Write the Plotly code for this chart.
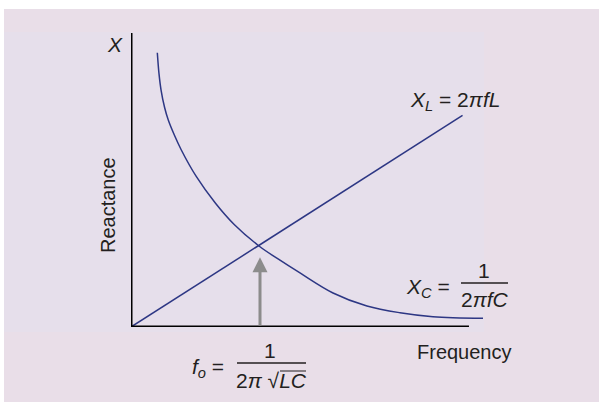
import plotly.graph_objects as go

# Frequency axis in units of the resonant frequency f0, reactance in units of X at f0
freq_line = [0.0, 2.57]
xl_values = [0.0, 2.58]

freq_curve = [0.204, 0.217, 0.233, 0.260, 0.289, 0.336, 0.388, 0.507, 0.655,
              0.800, 0.992, 1.140, 1.310, 1.566, 1.829, 2.085, 2.341, 2.729]
xc_values = [3.345, 3.09, 2.89, 2.68, 2.524, 2.341, 2.165, 1.833, 1.509,
             1.25, 0.988, 0.83, 0.659, 0.415, 0.256, 0.174, 0.126, 0.106]

f_resonance = 1.0
arrow_top = 0.85
axis_x_end = 2.62
axis_y_end = 3.585

# Plot-area geometry (pixels) used for placing the labels
W_FIG, H_FIG = 599, 407
L, T, W, H = 131, 24, 387, 303
X_RANGE = [0, W / 129.0]
Y_RANGE = [0, H / 82.0]


def px(x):
    return (x - L) / W


def py(y):
    return (T + H - y) / H


LINE_COLOR = "#2d3784"
TEXT_COLOR = "#231f20"
FONT = "Liberation Sans, Arial, sans-serif"

fig = go.Figure()

fig.add_trace(go.Scatter(x=freq_line, y=xl_values, mode="lines",
                         line=dict(color=LINE_COLOR, width=1.5),
                         hoverinfo="skip", showlegend=False))
fig.add_trace(go.Scatter(x=freq_curve, y=xc_values, mode="lines",
                         line=dict(color=LINE_COLOR, width=1.5, shape="spline", smoothing=1.0),
                         hoverinfo="skip", showlegend=False))

shapes = [
    # outer panel
    dict(type="rect", xref="paper", yref="paper", x0=px(4), x1=px(599), y0=py(402), y1=py(9),
         fillcolor="#e9dee8", line=dict(width=0), layer="below"),
    # inner panel
    dict(type="rect", xref="paper", yref="paper", x0=px(4), x1=px(484), y0=py(332), y1=py(32),
         fillcolor="#e6dfeb", line=dict(width=0), layer="below"),
    # axes
    dict(type="line", xref="x", yref="y", x0=0, x1=axis_x_end, y0=0, y1=0,
         line=dict(color="black", width=3)),
    dict(type="line", xref="x", yref="y", x0=0, x1=0, y0=0, y1=axis_y_end,
         line=dict(color="black", width=3)),
    # fraction bars
    dict(type="line", xref="paper", yref="paper", x0=px(461), x1=px(508), y0=py(283), y1=py(283),
         line=dict(color=TEXT_COLOR, width=1.5)),
    dict(type="line", xref="paper", yref="paper", x0=px(237), x1=px(306), y0=py(363), y1=py(363),
         line=dict(color=TEXT_COLOR, width=1.5)),
    # radical overline
    dict(type="line", xref="paper", yref="paper", x0=px(280), x1=px(306), y0=py(371), y1=py(371),
         line=dict(color=TEXT_COLOR, width=1)),
]


def label(text, x, y, size=21, angle=0):
    return dict(text=text, xref="paper", yref="paper", x=px(x), y=py(y),
                xanchor="center", yanchor="middle", showarrow=False, textangle=angle,
                font=dict(family=FONT, size=size, color=TEXT_COLOR))


annotations = [
    label("<i>X</i>", 115, 45, 21),
    label("Reactance", 108, 205, 20, -90),
    label("<i>X<sub>L</sub></i> = 2<i>πfL</i>", 455, 101),
    label("<i>X<sub>C</sub></i> =", 428, 288),
    label("1", 484, 270),
    label("2<i>πfC</i>", 485, 299),
    label("Frequency", 464, 352, 20),
    label("<i>f<sub>o</sub></i> =", 208, 368),
    label("1", 270, 350),
    label("2<i>π</i> √<i>LC</i>", 271, 380),
    # arrow marking the resonant frequency
    dict(x=f_resonance, y=arrow_top, ax=f_resonance, ay=0, xref="x", yref="y",
         axref="x", ayref="y", showarrow=True, arrowhead=2, arrowsize=1.0,
         arrowwidth=3, arrowcolor="#8c8c8c", text=""),
]

fig.update_layout(
    width=W_FIG, height=H_FIG,
    margin=dict(l=L, r=W_FIG - L - W, t=T, b=H_FIG - T - H, pad=0),
    paper_bgcolor="white", plot_bgcolor="rgba(0,0,0,0)",
    xaxis=dict(range=X_RANGE, visible=False, fixedrange=True),
    yaxis=dict(range=Y_RANGE, visible=False, fixedrange=True),
    shapes=shapes, annotations=annotations, showlegend=False,
)

fig.write_html("out.html", config={"displayModeBar": False})
